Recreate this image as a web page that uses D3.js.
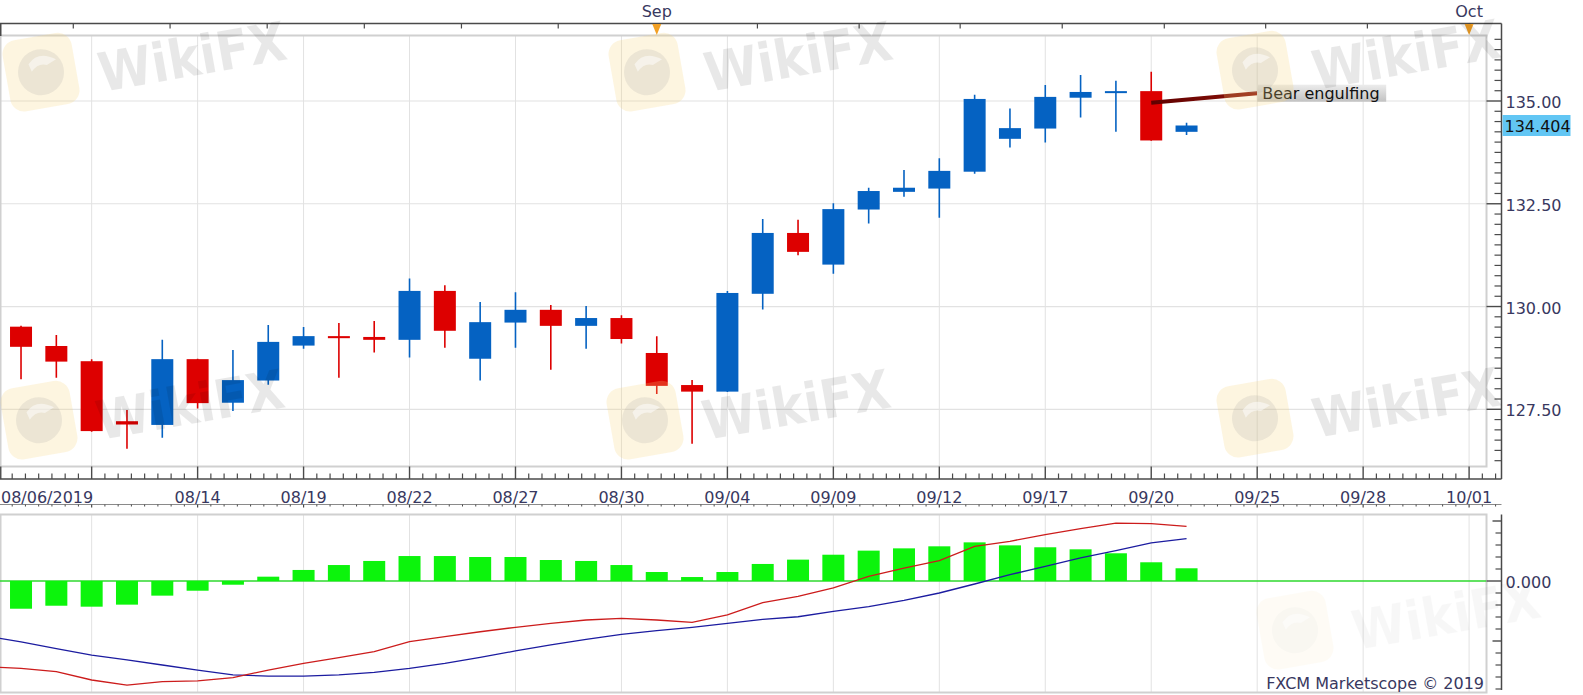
<!DOCTYPE html>
<html><head><meta charset="utf-8">
<script src="https://cdn.jsdelivr.net/npm/d3@7/dist/d3.min.js"></script>
<style>
html,body{margin:0;padding:0;background:#fff;overflow:hidden;}
svg{display:block;font-family:"DejaVu Sans",Verdana,sans-serif;}
</style>
</head><body>
<svg id="chart" width="1583" height="695"></svg>
<script>
// ---------------- DATA ----------------
const leadDate = "08/06";
const dates = ["08/07","08/08","08/09","08/12","08/13","08/14","08/15","08/16","08/19","08/20",
  "08/21","08/22","08/23","08/26","08/27","08/28","08/29","08/30","09/02","09/03",
  "09/04","09/05","09/06","09/09","09/10","09/11","09/12","09/13","09/16","09/17",
  "09/18","09/19","09/20","09/23"];
const futureDates = ["09/24","09/25","09/26","09/27","09/28","09/29","09/30","10/01"];

const open  = [129.51,129.04,128.67,127.21,127.12,128.72,127.66,128.20,129.05,129.28,
  129.26,129.19,130.38,128.73,129.61,129.92,129.53,129.72,128.87,128.09,
  127.93,130.31,131.79,131.02,132.36,132.79,132.87,133.28,134.08,134.33,
  135.08,135.20,135.24,134.25];
const high  = [129.53,129.31,128.72,127.48,129.19,128.73,128.94,129.55,129.50,129.60,
  129.65,130.68,130.52,130.11,130.35,130.04,130.01,129.79,129.28,128.21,
  130.38,132.13,132.11,132.51,132.89,133.32,133.61,135.15,134.82,135.39,
  135.63,135.49,135.71,134.47];
const low   = [128.23,128.27,126.955,126.54,126.81,127.52,127.46,128.10,128.97,128.27,
  128.88,128.76,129.00,128.20,129.00,128.46,128.97,129.10,127.87,126.66,
  127.92,129.93,131.25,130.80,132.02,132.67,132.16,133.23,133.87,133.99,
  134.60,134.25,134.03,134.17];
const close = [129.02,128.66,126.97,127.13,128.72,127.65,128.21,129.14,129.28,129.23,
  129.19,130.38,129.41,129.62,129.92,129.53,129.72,129.21,128.07,127.93,
  130.33,131.79,131.33,132.37,132.81,132.89,133.30,135.05,134.34,135.10,
  135.22,135.24,134.04,134.404];

// MACD histogram per candle date
const macdHist = [-0.231,-0.206,-0.214,-0.197,-0.122,-0.081,-0.031,0.036,0.092,0.133,
  0.167,0.208,0.208,0.200,0.200,0.175,0.167,0.133,0.075,0.033,
  0.075,0.142,0.178,0.219,0.253,0.272,0.289,0.322,0.297,0.281,
  0.264,0.231,0.156,0.106];
// MACD and signal lines (first value belongs to leadDate)
const macdLine = [-0.713,-0.728,-0.756,-0.825,-0.867,-0.839,-0.833,-0.806,-0.742,-0.686,-0.639,
  -0.589,-0.506,-0.464,-0.423,-0.386,-0.353,-0.325,-0.311,-0.325,-0.344,
  -0.283,-0.181,-0.128,-0.058,0.039,0.108,0.169,0.289,0.331,0.386,
  0.436,0.483,0.478,0.456];
const signalLine = [-0.458,-0.508,-0.564,-0.617,-0.658,-0.700,-0.742,-0.783,-0.792,-0.792,-0.783,
  -0.761,-0.728,-0.686,-0.636,-0.583,-0.533,-0.486,-0.444,-0.414,-0.386,
  -0.353,-0.319,-0.298,-0.253,-0.214,-0.161,-0.100,-0.025,0.053,0.122,
  0.192,0.253,0.317,0.353];

const xTickLabels = ["08/14","08/19","08/22","08/27","08/30","09/04","09/09","09/12","09/17","09/20","09/25","09/28","10/01"];
const rangeStartLabel = "08/06/2019";
const monthMarkers = [{date:"09/02", label:"Sep"}, {date:"10/01", label:"Oct"}];
const topMinorTicks = [2.48,5.22,7.97,10.72,13.47,16.21,21.85,24.73,27.59,30.48,33.37,36.24,39.12];
const priceMajor = [127.5,130.0,132.5,135.0];
const lastPrice = 134.404;
const annotation = {from:"09/20", fromPrice:134.96, to:"09/25", toPrice:135.19, text:"Bear engulfing"};
const macdMajor = [-0.5, 0, 0.5];

// ---------------- SETUP ----------------
const svg = d3.select("#chart");
const W = 1583, H = 695;
const allSlots = [leadDate, ...dates, ...futureDates];
const xi = d3.scaleLinear().domain([0, allSlots.length - 1]).range([-14.3, 1469.1]);
const xd = d => xi(allSlots.indexOf(d));

const P = {left:0, right:1486.5, top:35.5, bottom:466.5};
const M = {left:0, right:1486.5, top:514.5, bottom:692.5};
const axisX = 1501.5;
const y = d3.scaleLinear().domain([127.5,135]).range([409.3,101]);
const ym = d3.scaleLinear().domain([-0.5,0.5]).range([641,521]);

const textCol = "#383860", axisCol = "#4a4a4a", gridCol = "#e2e2e2", borderCol = "#d0d0d0";
const blue = "#0562c2", red = "#dd0000";
const bodyW = 22;

svg.append("rect").attr("width",W).attr("height",H).attr("fill","#fff");

const defs = svg.append("defs");
defs.append("clipPath").attr("id","clipMain").append("rect")
  .attr("x",P.left).attr("y",P.top).attr("width",P.right-P.left).attr("height",P.bottom-P.top);
defs.append("clipPath").attr("id","clipMacd").append("rect")
  .attr("x",M.left).attr("y",M.top).attr("width",M.right-M.left).attr("height",M.bottom-M.top);
const lg = defs.append("linearGradient").attr("id","lblGrad").attr("x1",0).attr("y1",0).attr("x2",0).attr("y2",1);
lg.append("stop").attr("offset","0%").attr("stop-color","#ececec");
lg.append("stop").attr("offset","100%").attr("stop-color","#c2c2c2");
const ag = defs.append("linearGradient").attr("id","annGrad").attr("x1",0).attr("y1",0).attr("x2",1).attr("y2",0);
ag.append("stop").attr("offset","0%").attr("stop-color","#5e0000");
ag.append("stop").attr("offset","100%").attr("stop-color","#8e1208");

// ---------------- MAIN PANEL ----------------
const gridSlots = d3.range(3, allSlots.length, 3);
const mainG = svg.append("g");
mainG.append("g").selectAll("line").data(gridSlots).join("line")
  .attr("x1",d=>xi(d)).attr("x2",d=>xi(d)).attr("y1",P.top).attr("y2",P.bottom)
  .attr("stroke",gridCol).attr("stroke-width",1);
mainG.append("g").selectAll("line").data(priceMajor).join("line")
  .attr("x1",P.left).attr("x2",P.right).attr("y1",d=>y(d)).attr("y2",d=>y(d))
  .attr("stroke",gridCol).attr("stroke-width",1.2);
mainG.append("rect").attr("x",P.left+0.5).attr("y",P.top).attr("width",P.right-P.left-0.5).attr("height",P.bottom-P.top)
  .attr("fill","none").attr("stroke",borderCol).attr("stroke-width",2);

const candles = dates.map((d,i)=>({d, o:open[i], h:high[i], l:low[i], c:close[i]}));
const cg = mainG.append("g").attr("clip-path","url(#clipMain)");
cg.selectAll("line.w").data(candles).join("line").attr("class","w")
  .attr("x1",d=>xd(d.d)).attr("x2",d=>xd(d.d)).attr("y1",d=>y(d.h)).attr("y2",d=>y(d.l))
  .attr("stroke",d=>d.c>=d.o?blue:red).attr("stroke-width",1.6);
cg.selectAll("rect.b").data(candles).join("rect").attr("class","b")
  .attr("x",d=>xd(d.d)-bodyW/2).attr("width",bodyW)
  .attr("y",d=>Math.min(y(d.o),y(d.c)))
  .attr("height",d=>Math.max(2,Math.abs(y(d.o)-y(d.c))))
  .attr("fill",d=>d.c>=d.o?blue:red);

// annotation
cg.append("line").attr("x1",xd(annotation.from)).attr("y1",y(annotation.fromPrice))
  .attr("x2",xd(annotation.to)).attr("y2",y(annotation.toPrice))
  .attr("stroke","url(#annGrad)").attr("stroke-width",4);
const annX = xd(annotation.to), annY = y(annotation.toPrice);
mainG.append("rect").attr("x",annX).attr("y",annY-8.5).attr("width",129).attr("height",17).attr("fill","url(#lblGrad)");
mainG.append("text").attr("x",annX+5).attr("y",annY+5.5).attr("font-size",16).attr("fill","#111").text(annotation.text);

// top axis
const topAx = svg.append("g");
topAx.append("line").attr("x1",0).attr("x2",axisX).attr("y1",23.5).attr("y2",23.5).attr("stroke",axisCol).attr("stroke-width",1.5);
topAx.append("line").attr("x1",0.75).attr("x2",0.75).attr("y1",23.5).attr("y2",36).attr("stroke",axisCol).attr("stroke-width",1.5);
topAx.selectAll("line.t").data(topMinorTicks).join("line").attr("class","t")
  .attr("x1",d=>xi(d)).attr("x2",d=>xi(d)).attr("y1",23.5).attr("y2",28.5).attr("stroke",axisCol).attr("stroke-width",1.2);
topAx.selectAll("path.m").data(monthMarkers).join("path").attr("class","m")
  .attr("d",d=>{const x=xd(d.date);return `M${x-4.5},24 L${x+4.5},24 L${x},35 Z`;}).attr("fill","#f2a024");
topAx.selectAll("text.m").data(monthMarkers).join("text").attr("class","m")
  .attr("x",d=>xd(d.date)).attr("y",16.5).attr("text-anchor","middle").attr("font-size",16).attr("fill",textCol).text(d=>d.label);

// bottom axis
const bot = svg.append("g");
bot.append("line").attr("x1",0).attr("x2",axisX).attr("y1",479).attr("y2",479).attr("stroke",axisCol).attr("stroke-width",1.5);
const minorSlots = d3.range(0.75, 42.8, 0.375).filter(s=>Math.abs(s/3-Math.round(s/3))>1e-6);
bot.selectAll("line.mi").data(minorSlots).join("line").attr("class","mi")
  .attr("x1",d=>xi(d)).attr("x2",d=>xi(d)).attr("y1",473.5).attr("y2",479).attr("stroke",axisCol).attr("stroke-width",1.2);
bot.selectAll("line.ma").data(gridSlots).join("line").attr("class","ma")
  .attr("x1",d=>xi(d)).attr("x2",d=>xi(d)).attr("y1",466.5).attr("y2",479).attr("stroke",axisCol).attr("stroke-width",1.4);
bot.append("line").attr("x1",0.75).attr("x2",0.75).attr("y1",466.5).attr("y2",479).attr("stroke",axisCol).attr("stroke-width",1.4);
bot.selectAll("text.xl").data(xTickLabels).join("text").attr("class","xl")
  .attr("x",d=>xd(d)).attr("y",503).attr("text-anchor","middle").attr("font-size",16).attr("fill",textCol).text(d=>d);
bot.append("text").attr("x",1).attr("y",503).attr("font-size",16).attr("fill",textCol).text(rangeStartLabel);

// price axis
const pa = svg.append("g");
pa.append("line").attr("x1",axisX).attr("x2",axisX).attr("y1",23.5).attr("y2",479).attr("stroke",axisCol).attr("stroke-width",1.5);
const priceMinor = d3.range(126.25, 136.51, 0.25).filter(v=>!priceMajor.some(m=>Math.abs(m-v)<1e-6));
pa.selectAll("line.mi").data(priceMinor).join("line").attr("class","mi")
  .attr("x1",axisX-7).attr("x2",axisX).attr("y1",d=>y(d)).attr("y2",d=>y(d)).attr("stroke",axisCol).attr("stroke-width",1.2);
pa.selectAll("line.ma").data(priceMajor).join("line").attr("class","ma")
  .attr("x1",P.right).attr("x2",axisX).attr("y1",d=>y(d)).attr("y2",d=>y(d)).attr("stroke",axisCol).attr("stroke-width",1.4);
pa.selectAll("text").data(priceMajor).join("text")
  .attr("x",axisX+4).attr("y",d=>y(d)+7).attr("font-size",16).attr("fill",textCol).text(d=>d.toFixed(2));
pa.append("rect").attr("x",axisX+1).attr("y",y(lastPrice)-10.5).attr("width",68).attr("height",21).attr("fill","#62c6f4");
pa.append("text").attr("x",axisX+3).attr("y",y(lastPrice)+6.5).attr("font-size",16).attr("fill","#111").text(lastPrice.toFixed(3));

// ---------------- MACD PANEL ----------------
const mg = svg.append("g");
mg.append("line").attr("x1",0).attr("x2",axisX).attr("y1",504.5).attr("y2",504.5).attr("stroke","#8a8a8a").attr("stroke-width",1);
mg.selectAll("line.tmi").data(minorSlots).join("line").attr("class","tmi")
  .attr("x1",d=>xi(d)).attr("x2",d=>xi(d)).attr("y1",504.5).attr("y2",506.5).attr("stroke",axisCol).attr("stroke-width",1);
mg.selectAll("line.tma").data(gridSlots).join("line").attr("class","tma")
  .attr("x1",d=>xi(d)).attr("x2",d=>xi(d)).attr("y1",504.5).attr("y2",507.5).attr("stroke",axisCol).attr("stroke-width",1.2);

mg.append("g").selectAll("line").data(gridSlots).join("line")
  .attr("x1",d=>xi(d)).attr("x2",d=>xi(d)).attr("y1",M.top).attr("y2",M.bottom)
  .attr("stroke",gridCol).attr("stroke-width",1);
mg.append("rect").attr("x",M.left+0.5).attr("y",M.top).attr("width",M.right-M.left-0.5).attr("height",M.bottom-M.top)
  .attr("fill","none").attr("stroke",borderCol).attr("stroke-width",2);
const mcl = mg.append("g").attr("clip-path","url(#clipMacd)");
mcl.append("line").attr("x1",M.left).attr("x2",M.right).attr("y1",ym(0)).attr("y2",ym(0)).attr("stroke","#2ed82e").attr("stroke-width",1.5);
mcl.selectAll("rect.h").data(dates.map((d,i)=>({d,v:macdHist[i]}))).join("rect").attr("class","h")
  .attr("x",d=>xd(d.d)-bodyW/2).attr("width",bodyW)
  .attr("y",d=>Math.min(ym(d.v),ym(0))).attr("height",d=>Math.abs(ym(d.v)-ym(0)))
  .attr("fill","#0cf40c");
const lineDates = [leadDate, ...dates];
const lineGen = d3.line().x((v,i)=>xd(lineDates[i])).y(v=>ym(v));
mcl.append("path").attr("d",lineGen(signalLine)).attr("fill","none").attr("stroke","#1c1ca0").attr("stroke-width",1.3);
mcl.append("path").attr("d",lineGen(macdLine)).attr("fill","none").attr("stroke","#cc1c1c").attr("stroke-width",1.3);

mg.append("line").attr("x1",axisX).attr("x2",axisX).attr("y1",M.top).attr("y2",690).attr("stroke",axisCol).attr("stroke-width",1.5);
const macdMinor = d3.range(-0.9, 0.51, 0.1).filter(v=>!macdMajor.some(m=>Math.abs(m-v)<1e-6));
mg.selectAll("line.mi").data(macdMinor).join("line").attr("class","mi")
  .attr("x1",axisX-6).attr("x2",axisX).attr("y1",d=>ym(d)).attr("y2",d=>ym(d)).attr("stroke",axisCol).attr("stroke-width",1.2);
mg.selectAll("line.ma").data(macdMajor).join("line").attr("class","ma")
  .attr("x1",d=>d===0?P.right:axisX-9).attr("x2",axisX).attr("y1",d=>ym(d)).attr("y2",d=>ym(d)).attr("stroke",axisCol).attr("stroke-width",1.4);
mg.append("text").attr("x",axisX+4).attr("y",ym(0)+7).attr("font-size",16).attr("fill",textCol).text((0).toFixed(3));
mg.append("text").attr("x",1484).attr("y",689).attr("text-anchor","end").attr("font-size",16).attr("fill",textCol).text("FXCM Marketscope © 2019");

// ---------------- WATERMARKS ----------------
const wmTiles = [{x:2,y:32,o:1},{x:608,y:32,o:1},{x:1216,y:30,o:1},{x:0,y:380,o:1},{x:606,y:380,o:1},{x:1216,y:378,o:1},{x:1256,y:590,o:0.3}];
const wm = svg.append("g").attr("pointer-events","none");
wmTiles.forEach(t=>{
  const g = wm.append("g").attr("transform",`translate(${t.x},${t.y})`).attr("opacity",t.o);
  const ic = g.append("g").attr("transform","rotate(-10 40 40)");
  ic.append("rect").attr("x",4).attr("y",4).attr("width",70).attr("height",72).attr("rx",14)
    .attr("fill","#f8d67e").attr("fill-opacity",0.24);
  ic.append("circle").attr("cx",39).attr("cy",40).attr("r",23).attr("fill","#9a9a9a").attr("fill-opacity",0.17);
  ic.append("path").attr("d","M28,30 Q40,18 56,30 L46,34 Q38,30 30,38 Z").attr("fill","#fff").attr("fill-opacity",0.5);
  g.append("text").attr("transform","translate(100,60) rotate(-10) scale(0.9,1)")
    .attr("font-size",54).attr("font-weight","bold").attr("fill","#000").attr("fill-opacity",0.09).text("WikiFX");
});
</script>
</body></html>
